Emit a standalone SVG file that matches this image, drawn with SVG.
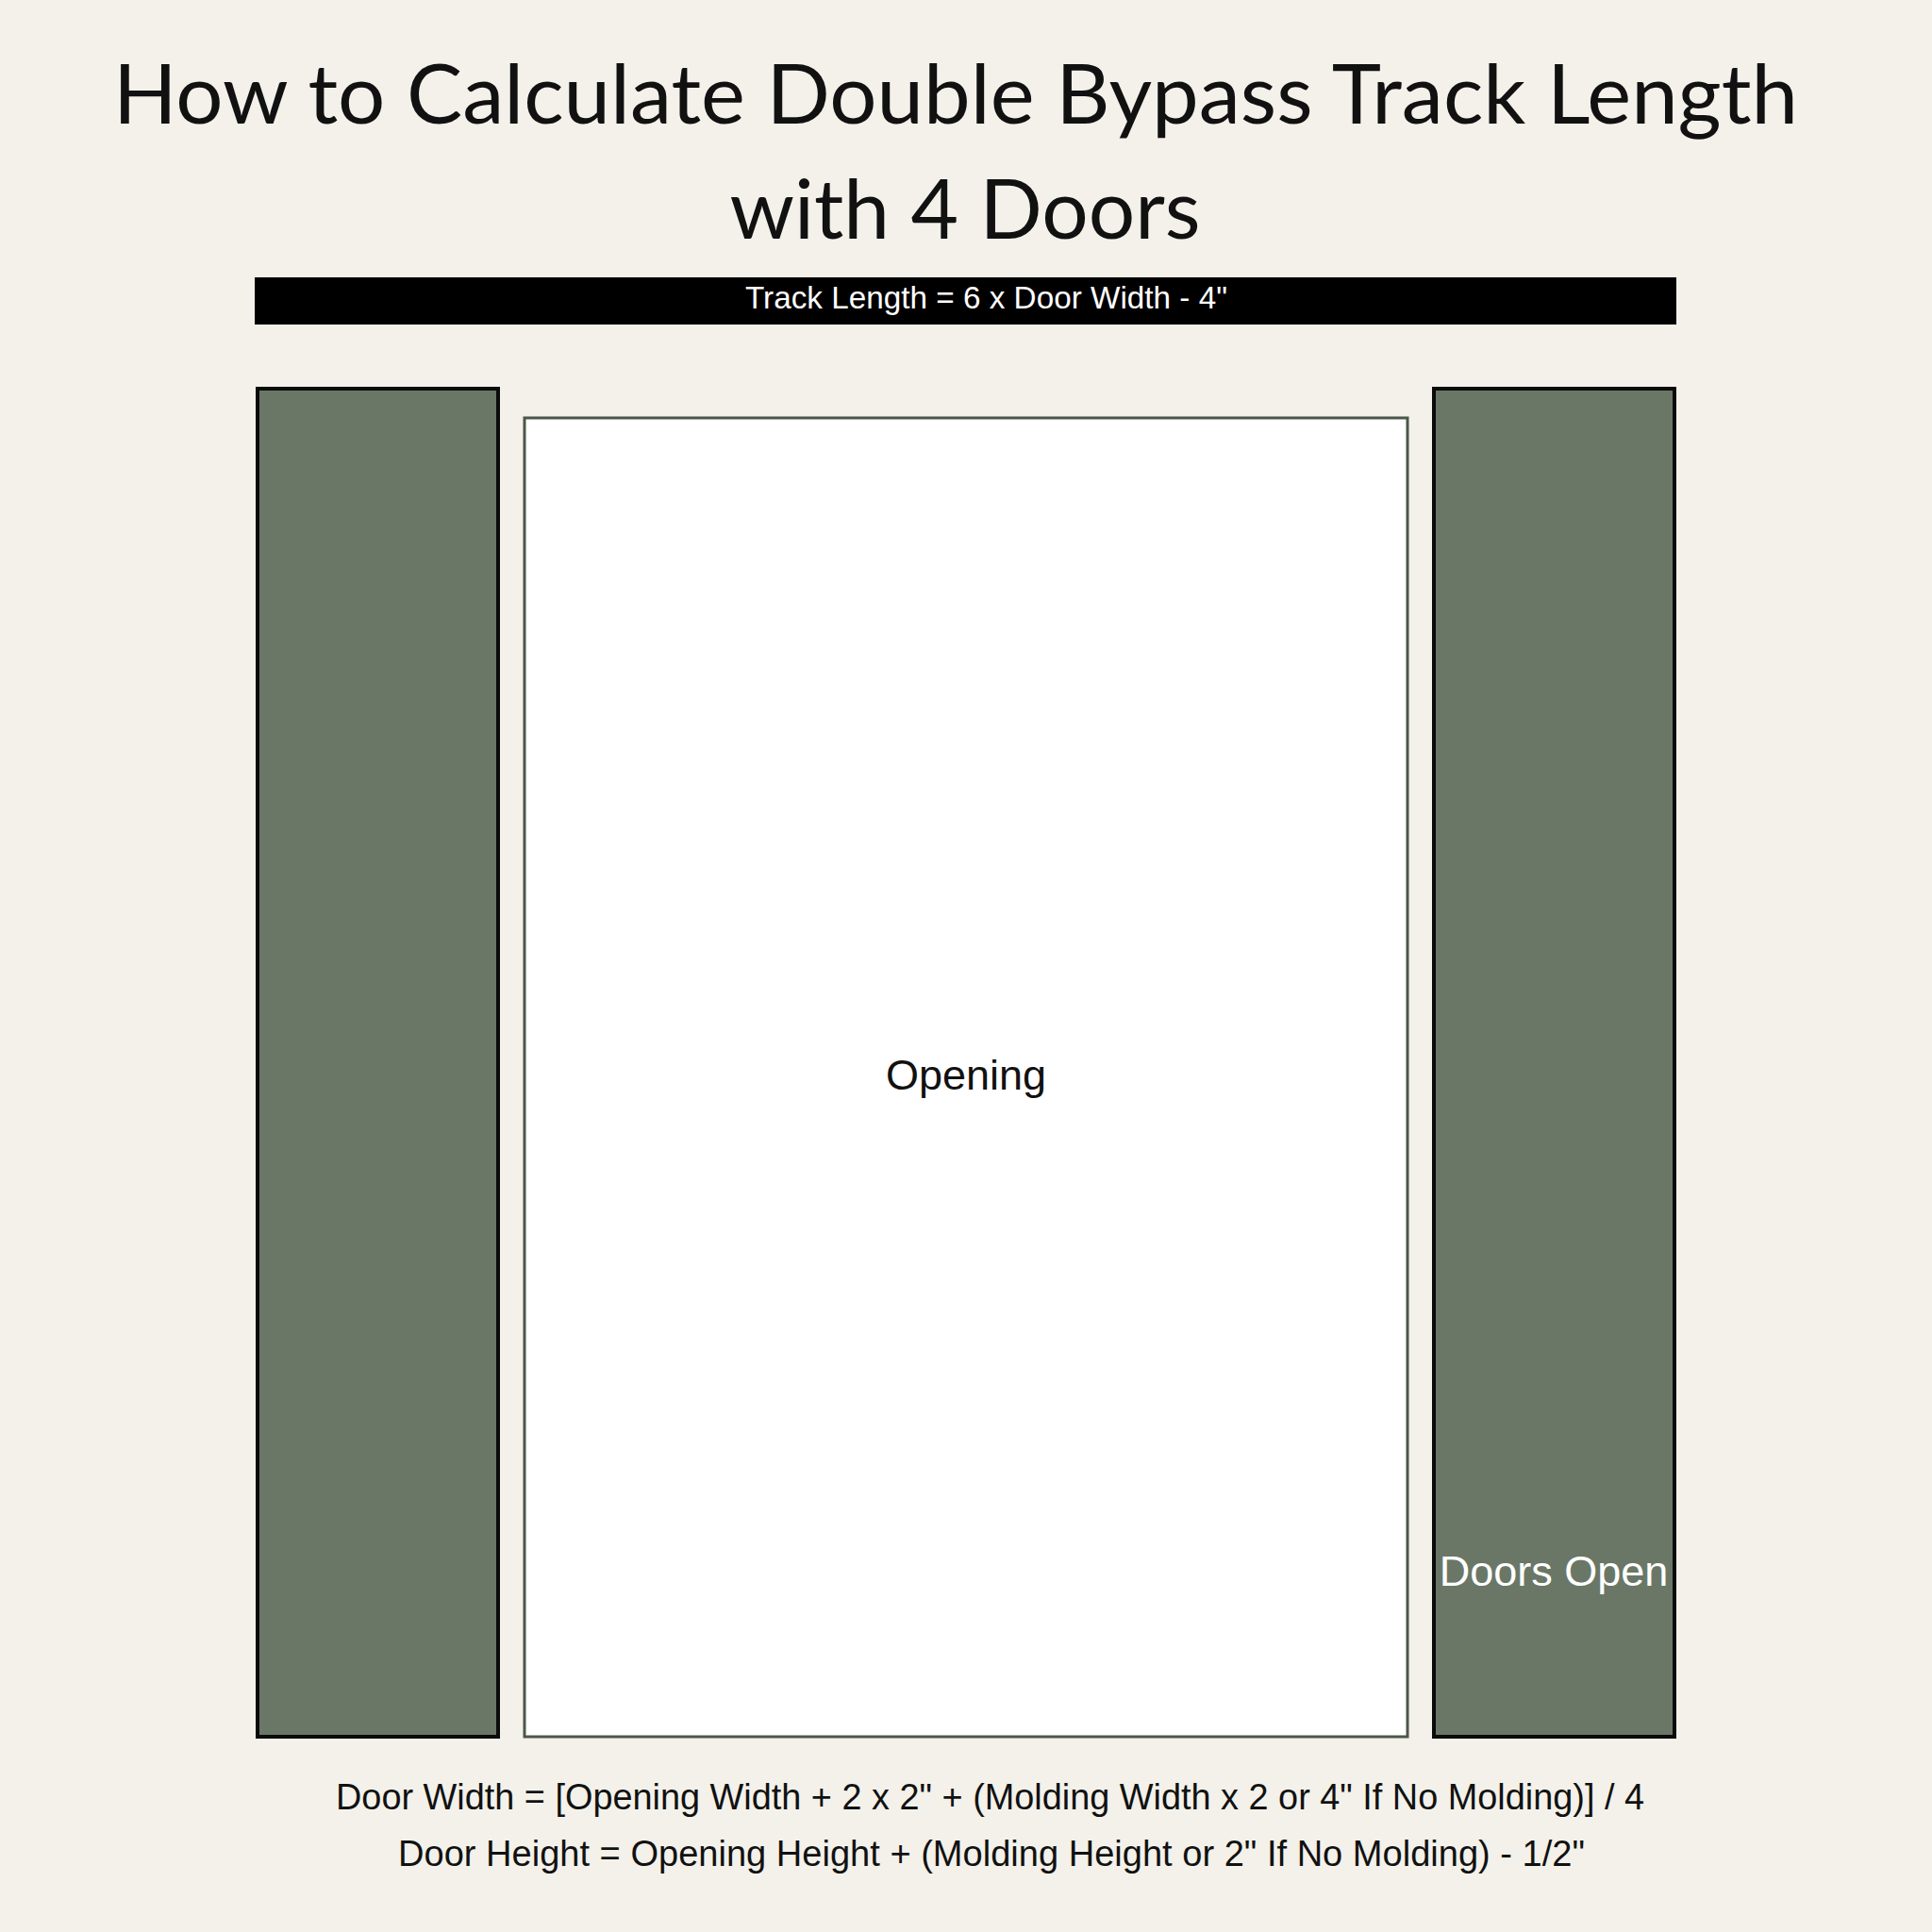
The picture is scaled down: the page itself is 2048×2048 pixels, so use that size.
<svg xmlns="http://www.w3.org/2000/svg" width="2048" height="2048" viewBox="0 0 2048 2048">
<style>
.title{font-family:Lato,"Open Sans","Liberation Sans",sans-serif;font-size:88px;fill:#111;text-anchor:middle}
.door{fill:#6a7767;stroke:#0b0b0b;stroke-width:4}
.formula{font-family:"Liberation Sans",Arial,sans-serif;font-size:38px;fill:#111}
.lbl{font-family:"Liberation Sans",Arial,sans-serif;font-size:45px;text-anchor:middle}
</style>
<rect width="2048" height="2048" fill="#f3f1ea"/>
<g id="title">
<text class="title" x="1013" y="131" textLength="1786" lengthAdjust="spacingAndGlyphs">How to Calculate Double Bypass Track Length</text>
<text class="title" x="1023" y="253" textLength="499" lengthAdjust="spacingAndGlyphs">with 4 Doors</text>
</g>
<g id="track">
<rect x="270" y="294" width="1507" height="50" fill="#000"/>
<text x="790" y="327" font-family="'Liberation Sans',Arial,sans-serif" font-size="34" fill="#fff" textLength="511" lengthAdjust="spacingAndGlyphs">Track Length = 6 x Door Width - 4"</text>
</g>
<g id="left-door">
<rect class="door" x="273" y="412" width="255" height="1429"/>
</g>
<g id="opening">
<rect x="556" y="443" width="936" height="1398" fill="#fff" stroke="#4b5749" stroke-width="3"/>
<text class="lbl" x="1024" y="1155" fill="#111">Opening</text>
</g>
<g id="right-door">
<rect class="door" x="1520" y="412" width="255" height="1429"/>
<text class="lbl" x="1647" y="1681" fill="#fff" font-size="44">Doors Open</text>
</g>
<g id="connectors"></g>
<g id="formulas">
<text class="formula" x="356" y="1918" textLength="1387" lengthAdjust="spacingAndGlyphs">Door Width = [Opening Width + 2 x 2" + (Molding Width x 2 or 4" If No Molding)] / 4</text>
<text class="formula" x="422" y="1978" textLength="1258" lengthAdjust="spacingAndGlyphs">Door Height = Opening Height + (Molding Height or 2" If No Molding) - 1/2"</text>
</g>
</svg>
